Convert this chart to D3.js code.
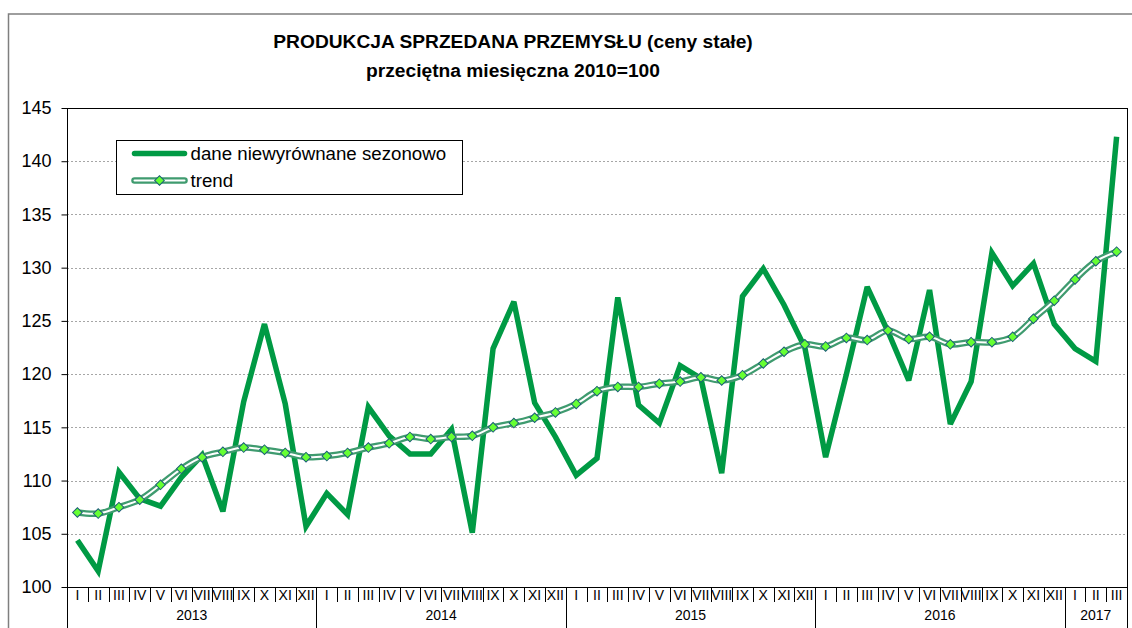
<!DOCTYPE html>
<html>
<head>
<meta charset="utf-8">
<script src="https://cdn.jsdelivr.net/npm/d3@7"></script>
<style>
  html, body { margin: 0; padding: 0; background: #fff; }
  svg { display: block; font-family: "Liberation Sans", Arial, sans-serif; }
</style>
</head>
<body>
<div id="chart"></div>
<script>

// data
var years = ['2013', '2014', '2015', '2016', '2017'];
var monthsInYear = [12, 12, 12, 12, 3];
var monthNames = ['I', 'II', 'III', 'IV', 'V', 'VI', 'VII', 'VIII', 'IX', 'X', 'XI', 'XII'];

var raw = [
  104.4, 101.5, 110.8, 108.3, 107.6, 110.3, 112.4, 107.1, 117.4, 124.7, 117.2, 105.7,
  108.8, 106.8, 116.9, 114.2, 112.5, 112.5, 114.8, 105.1, 122.4, 126.8, 117.3, 114.1,
  110.5, 112.1, 127.2, 117.1, 115.4, 120.8, 119.6, 110.7, 127.3, 129.9, 126.5, 122.5,
  112.2, 120.0, 128.2, 124.0, 119.4, 127.9, 115.3, 119.3, 131.4, 128.3, 130.4, 124.7,
  122.4, 121.2, 142.3
];

var trend = [
  107.0, 106.9, 107.5, 108.2, 109.6, 111.1, 112.2, 112.7, 113.1, 112.9, 112.6, 112.2,
  112.3, 112.6, 113.1, 113.5, 114.1, 113.9, 114.1, 114.2, 115.0, 115.4, 115.9, 116.4,
  117.2, 118.4, 118.8, 118.8, 119.1, 119.3, 119.7, 119.4, 119.9, 121.0, 122.1, 122.8,
  122.6, 123.4, 123.2, 124.1, 123.3, 123.5, 122.8, 123.0, 123.0, 123.5, 125.2, 126.9,
  128.9, 130.6, 131.5
];

var yTicks = [100, 105, 110, 115, 120, 125, 130, 135, 140, 145];
var titleLines = ['PRODUKCJA SPRZEDANA PRZEMYSŁU (ceny stałe)', 'przeciętna miesięczna 2010=100'];
var seriesNames = ['dane niewyrównane sezonowo', 'trend'];

var COLORS = {
  raw: '#009a44',
  trendEdge: '#3f9b6f',
  marker: '#66ff33',
  markerEdge: '#1d5f78',
  grid: '#a6a6a6',
  frame: '#7f7f7f'
};

function translate(x, y) {
  return 'translate(' + x + ',' + y + ')';
}

// build the month categories from the years
var categories = [];
years.forEach(function(yr, yi) {
  for (var m = 0; m < monthsInYear[yi]; m++) {
    categories.push({ year: yr, month: monthNames[m] });
  }
});

var width = 1132, height = 628;
var plot = { left: 67, right: 1127, top: 108, bottom: 587 };

var svg = d3.select('#chart').append('svg')
  .attr('width', width)
  .attr('height', height);

svg.append('rect')
  .attr('width', width).attr('height', height)
  .attr('fill', '#fff');

// outer chart frame
svg.append('rect')
  .attr('x', 8.5).attr('y', 14)
  .attr('width', width + 20).attr('height', height + 20)
  .attr('fill', 'none')
  .attr('stroke', COLORS.frame)
  .attr('stroke-width', 1.5);

var x = d3.scaleBand()
  .domain(d3.range(categories.length))
  .range([plot.left, plot.right])
  .padding(0);

var y = d3.scaleLinear()
  .domain([100, 145])
  .range([plot.bottom, plot.top]);

function cx(i) { return x(i) + x.bandwidth() / 2; }

// title
svg.append('g').selectAll('text')
  .data(titleLines)
  .enter().append('text')
  .attr('x', 513)
  .attr('y', function(d, i) { return 48 + i * 28.5; })
  .attr('text-anchor', 'middle')
  .attr('font-size', 19.2)
  .attr('font-weight', 'bold')
  .attr('fill', '#000')
  .text(function(d) { return d; });

// grid lines
svg.append('g').selectAll('line')
  .data(yTicks.filter(function(v) { return v > 100 && v < 145; }))
  .enter().append('line')
  .attr('x1', plot.left).attr('x2', plot.right)
  .attr('y1', function(d) { return Math.round(y(d)) + 0.5; })
  .attr('y2', function(d) { return Math.round(y(d)) + 0.5; })
  .attr('stroke', COLORS.grid)
  .attr('stroke-width', 1)
  .attr('stroke-dasharray', '2,2');

// y axis
var yAxis = svg.append('g')
  .attr('transform', translate(plot.left + 0.5, 0))
  .call(d3.axisLeft(y).tickValues(yTicks).tickSize(6).tickPadding(10).tickFormat(d3.format('d')));

yAxis.select('.domain').remove();
yAxis.selectAll('.tick line').attr('stroke', '#000');
yAxis.selectAll('.tick text')
  .attr('font-size', 18)
  .attr('font-family', '"Liberation Sans", Arial, sans-serif')
  .attr('fill', '#000');

// plot border
svg.append('rect')
  .attr('x', plot.left + 0.5).attr('y', plot.top + 0.5)
  .attr('width', plot.right - plot.left).attr('height', plot.bottom - plot.top)
  .attr('fill', 'none')
  .attr('stroke', '#000')
  .attr('stroke-width', 1);

// category axis: month separators, labels, years
var xAxis = svg.append('g');

xAxis.selectAll('.sep')
  .data(d3.range(1, categories.length))
  .enter().append('line')
  .attr('class', 'sep')
  .attr('x1', function(i) { return Math.round(x(i)) + 0.5; })
  .attr('x2', function(i) { return Math.round(x(i)) + 0.5; })
  .attr('y1', plot.bottom)
  .attr('y2', plot.bottom + 15)
  .attr('stroke', '#000');

xAxis.selectAll('.month')
  .data(categories)
  .enter().append('text')
  .attr('class', 'month')
  .attr('x', function(d, i) { return cx(i); })
  .attr('y', plot.bottom + 13)
  .attr('text-anchor', 'middle')
  .attr('font-size', 14)
  .attr('fill', '#000')
  .text(function(d) { return d.month; });

var yearStart = [0];
monthsInYear.forEach(function(n, i) { yearStart.push(yearStart[i] + n); });

xAxis.selectAll('.yearsep')
  .data(yearStart)
  .enter().append('line')
  .attr('class', 'yearsep')
  .attr('x1', function(i) { return Math.round(i < categories.length ? x(i) : plot.right) + 0.5; })
  .attr('x2', function(i) { return Math.round(i < categories.length ? x(i) : plot.right) + 0.5; })
  .attr('y1', plot.bottom)
  .attr('y2', height)
  .attr('stroke', '#000');

xAxis.selectAll('.year')
  .data(years)
  .enter().append('text')
  .attr('class', 'year')
  .attr('x', function(d, i) {
    var a = x(yearStart[i]);
    var b = yearStart[i + 1] < categories.length ? x(yearStart[i + 1]) : plot.right;
    return (a + b) / 2;
  })
  .attr('y', plot.bottom + 33)
  .attr('text-anchor', 'middle')
  .attr('font-size', 14)
  .attr('fill', '#000')
  .text(function(d) { return d; });

// series
var rawLine = d3.line()
  .x(function(d, i) { return cx(i); })
  .y(function(d) { return y(d); });

var trendLine = d3.line()
  .x(function(d, i) { return cx(i); })
  .y(function(d) { return y(d); })
  .curve(d3.curveCatmullRom);

var diamond = d3.symbol().type(d3.symbolSquare).size(46);

svg.append('path')
  .attr('d', rawLine(raw))
  .attr('fill', 'none')
  .attr('stroke', COLORS.raw)
  .attr('stroke-width', 5.5)
  .attr('stroke-linejoin', 'miter')
  .attr('stroke-miterlimit', 3);

svg.append('path')
  .attr('d', trendLine(trend))
  .attr('fill', 'none')
  .attr('stroke', COLORS.trendEdge)
  .attr('stroke-width', 6.5);

svg.append('path')
  .attr('d', trendLine(trend))
  .attr('fill', 'none')
  .attr('stroke', '#fff')
  .attr('stroke-width', 2);

svg.append('g').selectAll('path')
  .data(trend)
  .enter().append('path')
  .attr('d', diamond)
  .attr('transform', function(d, i) { return translate(cx(i), y(d)) + ' rotate(45)'; })
  .attr('fill', COLORS.marker)
  .attr('stroke', COLORS.markerEdge)
  .attr('stroke-width', 1);

// legend
var legend = svg.append('g').attr('transform', translate(116.5, 140.5));

legend.append('rect')
  .attr('width', 346).attr('height', 54)
  .attr('fill', '#fff')
  .attr('stroke', '#000')
  .attr('stroke-width', 1);

legend.append('line')
  .attr('x1', 18).attr('x2', 68)
  .attr('y1', 13).attr('y2', 13)
  .attr('stroke', COLORS.raw)
  .attr('stroke-width', 5.5)
  .attr('stroke-linecap', 'round');

legend.append('line')
  .attr('x1', 18).attr('x2', 68)
  .attr('y1', 40).attr('y2', 40)
  .attr('stroke', COLORS.trendEdge)
  .attr('stroke-width', 6.5)
  .attr('stroke-linecap', 'round');

legend.append('line')
  .attr('x1', 18).attr('x2', 68)
  .attr('y1', 40).attr('y2', 40)
  .attr('stroke', '#fff')
  .attr('stroke-width', 2)
  .attr('stroke-linecap', 'round');

legend.append('path')
  .attr('d', diamond)
  .attr('transform', translate(43, 40) + ' rotate(45)')
  .attr('fill', COLORS.marker)
  .attr('stroke', COLORS.markerEdge)
  .attr('stroke-width', 1);

legend.selectAll('.label')
  .data(seriesNames)
  .enter().append('text')
  .attr('class', 'label')
  .attr('x', 74)
  .attr('y', function(d, i) { return 19.5 + i * 27; })
  .attr('font-size', 18.7)
  .attr('fill', '#000')
  .text(function(d) { return d; });

</script>
</body>
</html>
